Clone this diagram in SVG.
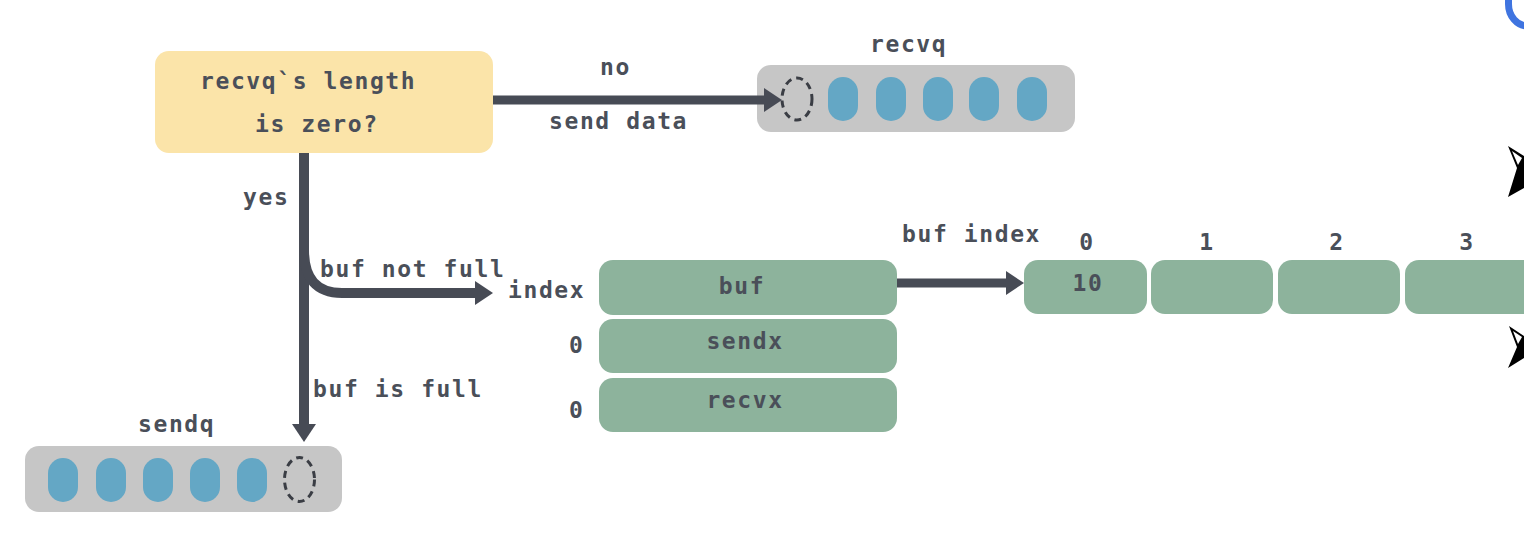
<svg xmlns="http://www.w3.org/2000/svg" width="1524" height="550" viewBox="0 0 1524 550">
<defs>
<style>
.t{font-family:"DejaVu Sans Mono","Liberation Mono",monospace;font-size:23px;font-weight:bold;fill:#4a4f59;letter-spacing:1.6px}
.q{fill:#c6c6c6}
.p{fill:#64a7c5}
.g{fill:#8db39c}
.d{fill:none;stroke:#3a3d44;stroke-width:3;stroke-dasharray:7 5}
.c{fill:none;stroke:#474b55}
</style>
<marker id="ah" markerUnits="userSpaceOnUse" markerWidth="20" markerHeight="26" refX="8" refY="12" orient="auto">
<path d="M0,0 L18,12 L0,24 z" fill="#474b55"/>
</marker>
</defs>
<rect width="1524" height="550" fill="#ffffff"/>

<g id="decision">
<rect x="155" y="51" width="338" height="102" rx="14" fill="#fbe4a9"/>
<text class="t" x="200" y="89">recvq`s length</text>
<text class="t" x="255" y="132">is zero?</text>
</g>

<g id="labels">
<text class="t" x="600" y="75">no</text>
<text class="t" x="549" y="129">send data</text>
<text class="t" x="243" y="205">yes</text>
<text class="t" x="320" y="277">buf not full</text>
<text class="t" x="313" y="397">buf is full</text>
<text class="t" x="902" y="242">buf index</text>
</g>

<g id="recvq">
<text class="t" x="870" y="52">recvq</text>
<rect class="q" x="757" y="65" width="318" height="67" rx="14"/>
<ellipse class="d" cx="797" cy="99" rx="15" ry="21"/>
<rect class="p" x="828" y="77" width="30" height="44" rx="15"/>
<rect class="p" x="876" y="77" width="30" height="44" rx="15"/>
<rect class="p" x="923" y="77" width="30" height="44" rx="15"/>
<rect class="p" x="969" y="77" width="30" height="44" rx="15"/>
<rect class="p" x="1017" y="77" width="30" height="44" rx="15"/>
</g>

<g id="sendq">
<text class="t" x="138" y="432">sendq</text>
<rect class="q" x="25" y="446" width="317" height="66" rx="14"/>
<rect class="p" x="48" y="458" width="30" height="44" rx="15"/>
<rect class="p" x="96" y="458" width="30" height="44" rx="15"/>
<rect class="p" x="143" y="458" width="30" height="44" rx="15"/>
<rect class="p" x="190" y="458" width="30" height="44" rx="15"/>
<rect class="p" x="237" y="458" width="30" height="44" rx="15"/>
<ellipse class="d" cx="299.5" cy="479.5" rx="15" ry="22"/>
</g>

<g id="hchan">
<text class="t" x="508" y="298">index</text>
<text class="t" x="569" y="353">0</text>
<text class="t" x="569" y="418">0</text>
<rect class="g" x="599" y="260" width="298" height="55" rx="14"/>
<rect class="g" x="599" y="319" width="298" height="54" rx="14"/>
<rect class="g" x="599" y="378" width="298" height="54" rx="14"/>
<text class="t" x="742" y="294" text-anchor="middle">buf</text>
<text class="t" x="745" y="349" text-anchor="middle">sendx</text>
<text class="t" x="745" y="408" text-anchor="middle">recvx</text>
</g>

<g id="buffer">
<text class="t" x="1087" y="250" text-anchor="middle">0</text>
<text class="t" x="1207" y="250" text-anchor="middle">1</text>
<text class="t" x="1337" y="250" text-anchor="middle">2</text>
<text class="t" x="1467" y="250" text-anchor="middle">3</text>
<rect class="g" x="1024" y="260" width="123" height="54" rx="14"/>
<rect class="g" x="1151" y="260" width="122" height="54" rx="14"/>
<rect class="g" x="1278" y="260" width="122" height="54" rx="14"/>
<rect class="g" x="1405" y="260" width="134" height="54" rx="14"/>
<text class="t" x="1088" y="291" text-anchor="middle">10</text>
</g>

<g id="connectors">
<path class="c" d="M493,100 H772" stroke-width="9" marker-end="url(#ah)"/>
<path class="c" d="M304,153 V432" stroke-width="10" marker-end="url(#ah)"/>
<path class="c" d="M304,250 Q304,293 342,293 H483" stroke-width="10" marker-end="url(#ah)"/>
<path class="c" d="M897,283 H1014" stroke-width="9" marker-end="url(#ah)"/>
</g>

<g id="edge">
<path d="M1508.5,-6 L1508.5,4 A19,22 0 0 0 1527.5,26" fill="none" stroke="#3f74e0" stroke-width="7"/>
<path d="M1508,146 L1524,156 L1524,188 L1508,197 L1517,168 Z" fill="#000"/>
<path d="M1512,151 L1522,158 L1518,165 Z" fill="#fff"/>
<path d="M1509,326 L1524,336 L1524,358 L1508,368 L1517,347 Z" fill="#000"/>
<path d="M1513,331 L1522,337 L1518,344 Z" fill="#fff"/>
</g>
</svg>
